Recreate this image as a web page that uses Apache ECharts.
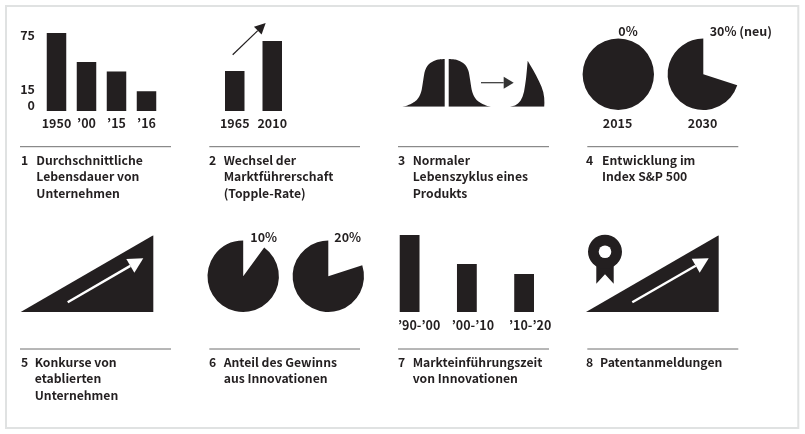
<!DOCTYPE html>
<html lang="de">
<head>
<meta charset="UTF-8">
<title>Innovation</title>
<script src="https://cdn.jsdelivr.net/npm/echarts@6/dist/echarts.min.js"></script>
<style>
  html, body { margin: 0; padding: 0; background: #fff; }
  #chart { width: 805px; height: 434px; }
</style>
</head>
<body>
<div id="chart"></div>
<script>
// values
const lifeYears = ['1950', '’00', '’15', '’16'];
const lifeValues = [75, 47, 38, 19];
const lifeTicks = [0, 15, 75];
const toppleYears = ['1965', '2010'];
const toppleValues = [40, 70];
const cycleLeft = [[2,0],[6,0.8],[11.7,3.2],[15.5,5.6],[18.3,8.7],[20.3,12.5],[21.7,17],[23.3,27],[25,36],[28.3,42],[33.3,45.5],[38.3,47.2],[44.7,47.8]];
const cycleRight = [[48.7,47.8],[55.1,47.2],[60.1,45.5],[65.1,42],[68.4,36],[70.1,27],[71.7,17],[73.1,12.5],[75.1,8.7],[77.9,5.6],[81.7,3.2],[87.4,0.8],[91.4,0]];
const cycleCut = [[110,0],[115,1.3],[118,3.3],[120.5,6],[122.5,10],[124,15],[125,21],[126,28],[126.8,36],[127.7,46],[130,42],[133,37],[136,31.5],[139,25.5],[141.5,20],[143.3,14.5],[144.2,9],[144.4,4],[144.2,0]];
const sp500Years = ['2015', '2030'];
const sp500New = [0, 30];
const sp500Labels = ['0%', '30% (neu)'];
const bankruptcies = [[0,0],[132.6,76.7]];
const profitShare = [10, 20];
const profitLabels = ['10%', '20%'];
const launchPeriods = ['’90-’00', '’00-’10', '’10-’20'];
const launchValues = [77, 48, 38];
const patents = [[0,0],[132.7,76.7]];
const captionNumbers = ['1','2','3','4','5','6','7','8'];
const captions = [
  'Durchschnittliche\nLebensdauer von\nUnternehmen',
  'Wechsel der\nMarktführerschaft\n(Topple-Rate)',
  'Normaler\nLebenszyklus eines\nProdukts',
  'Entwicklung im\nIndex S&P 500',
  'Konkurse von\netablierten\nUnternehmen',
  'Anteil des Gewinns\naus Innovationen',
  'Markteinführungszeit\nvon Innovationen',
  'Patentanmeldungen'
];

const INK = '#231f20';
const FONT = '"Noto Sans CJK KR", "Noto Sans", sans-serif';
const WEIGHT = 'bold';
const SIZE = 12.5;
const CAPTION_SIZE = 12.2;

const grids = [], xAxes = [], yAxes = [], series = [], graphics = [];

function addGrid(left, top, width, height) {
  grids.push({ left, top, width, height, containLabel: false });
  return grids.length - 1;
}

function barPanel(rect, cats, vals, max, barWidth, margin, labelOpts, yOpts) {
  const i = addGrid(...rect);
  xAxes.push({
    gridIndex: i, type: 'category', data: cats,
    axisLine: { show: false }, axisTick: { show: false }, splitLine: { show: false },
    axisLabel: Object.assign({ color: INK, fontFamily: FONT, fontWeight: WEIGHT, fontSize: SIZE, margin, interval: 0 }, labelOpts)
  });
  yAxes.push(Object.assign({
    gridIndex: i, type: 'value', min: 0, max,
    axisLine: { show: false }, axisTick: { show: false }, splitLine: { show: false }, axisLabel: { show: false }
  }, yOpts));
  series.push({ type: 'bar', xAxisIndex: i, yAxisIndex: i, data: vals, barWidth, itemStyle: { color: INK }, silent: true });
}

function areaPanel(rect, xMax, yMax, shapes, smooth) {
  const i = addGrid(...rect);
  const hidden = { show: false };
  xAxes.push({ gridIndex: i, type: 'value', min: 0, max: xMax, axisLine: hidden, axisTick: hidden, splitLine: hidden, axisLabel: hidden });
  yAxes.push({ gridIndex: i, type: 'value', min: 0, max: yMax, axisLine: hidden, axisTick: hidden, splitLine: hidden, axisLabel: hidden });
  shapes.forEach((d, k) => series.push({
    type: 'line', xAxisIndex: i, yAxisIndex: i, data: d, showSymbol: false, silent: true,
    smooth: smooth ? smooth[k] : false,
    lineStyle: { width: 0 }, areaStyle: { color: INK, opacity: 1 }
  }));
}

function piePanel(cx, cy, share) {
  series.push({
    type: 'pie', center: [cx, cy], radius: 35.7, startAngle: 90, clockwise: true, silent: true,
    label: { show: false }, labelLine: { show: false },
    data: [
      { value: share, itemStyle: { color: 'rgba(0,0,0,0)' } },
      { value: 100 - share, itemStyle: { color: INK } }
    ]
  });
}

function label(text, x, y, align) {
  graphics.push({
    type: 'text', x, y, silent: true, z: 100,
    style: { text, fill: INK, font: WEIGHT + ' ' + SIZE + 'px ' + FONT, textAlign: align || 'center', textVerticalAlign: 'middle' }
  });
}

function arrow(x1, y1, x2, y2, color, width, headLen, headHalf) {
  const a = Math.atan2(y2 - y1, x2 - x1), c = Math.cos(a), s = Math.sin(a);
  const bx = x2 - c * headLen, by = y2 - s * headLen;
  graphics.push({ type: 'line', silent: true, z: 100, shape: { x1, y1, x2: bx, y2: by }, style: { stroke: color, lineWidth: width } });
  graphics.push({
    type: 'polygon', silent: true, z: 100,
    shape: { points: [[x2, y2], [bx - s * headHalf, by + c * headHalf], [bx + s * headHalf, by - c * headHalf]] },
    style: { fill: color }
  });
}

// 1
barPanel([41.5, 33, 120, 78], lifeYears, lifeValues, 75, 19.5, 6, {}, {
  axisLabel: {
    show: true, customValues: lifeTicks, margin: 6.5, color: INK, fontFamily: FONT, fontWeight: WEIGHT, fontSize: SIZE,
    formatter: v => (v === 75 ? '{down|' + v + '}' : '{up|' + v + '}'),
    rich: {
      up: { padding: [0, 0, 12, 0], color: INK, fontFamily: FONT, fontWeight: WEIGHT, fontSize: SIZE },
      down: { padding: [4, 0, 0, 0], color: INK, fontFamily: FONT, fontWeight: WEIGHT, fontSize: SIZE }
    }
  }
});
// 2
barPanel([216, 41, 75, 70], toppleYears, toppleValues, 70, 19.5, 6, {}, {});
arrow(232.7, 54.7, 265.7, 23, INK, 1.2, 11, 5.5);
// 3
areaPanel([400, 58.7, 150, 48], 150, 48, [cycleLeft, cycleRight, cycleCut], [0.3, 0.3, false]);
arrow(481, 82.7, 513.7, 82.7, '#333', 1.2, 10, 6);
// 4
piePanel(618.3, 74.3, sp500New[0]);
piePanel(703.3, 74.3, sp500New[1]);
label(sp500Labels[0], 628, 31.7);
label(sp500Labels[1], 709.7, 31.7, 'left');
label(sp500Years[0], 617.5, 123.7);
label(sp500Years[1], 702.5, 123.7);
// 5
areaPanel([20.7, 235.3, 132.6, 76.7], 132.6, 76.7, [bankruptcies]);
arrow(67.7, 302.3, 143.3, 258.3, '#fff', 2.4, 15, 8);
// 6
piePanel(243.2, 276.3, profitShare[0]);
piePanel(328.3, 276.3, profitShare[1]);
label(profitLabels[0], 263.7, 237.7);
label(profitLabels[1], 347.7, 237.7);
// 7
const launchRich = {};
[19, 12, 12].forEach((p, k) => {
  launchRich['p' + k] = { padding: [0, 0, 0, p], color: INK, fontFamily: FONT, fontWeight: WEIGHT, fontSize: SIZE };
});
barPanel([381, 235, 171.75, 77], launchPeriods, launchValues, 77, 19.8, 7, {
  formatter: (v, k) => '{p' + k + '|' + v + '}', rich: launchRich
}, {});
// 8
areaPanel([586, 235.3, 132.7, 76.7], 132.7, 76.7, [patents]);
arrow(632.3, 302.3, 708.7, 258.3, '#fff', 2.4, 15, 8);
graphics.push({ type: 'polygon', silent: true, z: 100, shape: { points: [[596.3, 262], [596.3, 283.7], [605, 274.3], [613.7, 283.7], [613.7, 262]] }, style: { fill: INK } });
graphics.push({ type: 'circle', silent: true, z: 100, shape: { cx: 605, cy: 251.7, r: 17 }, style: { fill: INK } });
graphics.push({ type: 'circle', silent: true, z: 101, shape: { cx: 605, cy: 251.7, r: 6.3 }, style: { fill: '#fff' } });

// panel frame
graphics.push({ type: 'rect', silent: true, z: -1, shape: { x: 6, y: 6, width: 792.3, height: 422 }, style: { fill: '#fff', stroke: '#e0e2e2', lineWidth: 2 } });

// rules and captions
const ruleX = [[20, 171], [209.3, 360], [398, 549], [587.3, 738.3]];
const numX = [21, 209, 398, 586, 21, 209, 398, 586];
const textX = [36.3, 223.7, 412.7, 602, 34.7, 223.7, 412.7, 600];
[146.7, 349].forEach(y => ruleX.forEach(r => {
  graphics.push({ type: 'line', silent: true, z: 100, shape: { x1: r[0], y1: y, x2: r[1], y2: y }, style: { stroke: '#6f6f6f', lineWidth: 1 } });
}));
captions.forEach((c, k) => {
  const y = k < 4 ? 152.2 : 354.2;
  const font = WEIGHT + ' ' + CAPTION_SIZE + 'px ' + FONT;
  graphics.push({ type: 'text', x: numX[k], y, silent: true, z: 100, style: { text: captionNumbers[k], fill: INK, font, lineHeight: 16.4 } });
  graphics.push({ type: 'text', x: textX[k], y, silent: true, z: 100, style: { text: c, fill: INK, font, lineHeight: 16.4 } });
});

const chart = echarts.init(document.getElementById('chart'), null, { renderer: 'canvas' });
chart.setOption({
  animation: false,
  backgroundColor: '#fff',
  grid: grids, xAxis: xAxes, yAxis: yAxes, series,
  graphic: { elements: graphics }
});
</script>
</body>
</html>
